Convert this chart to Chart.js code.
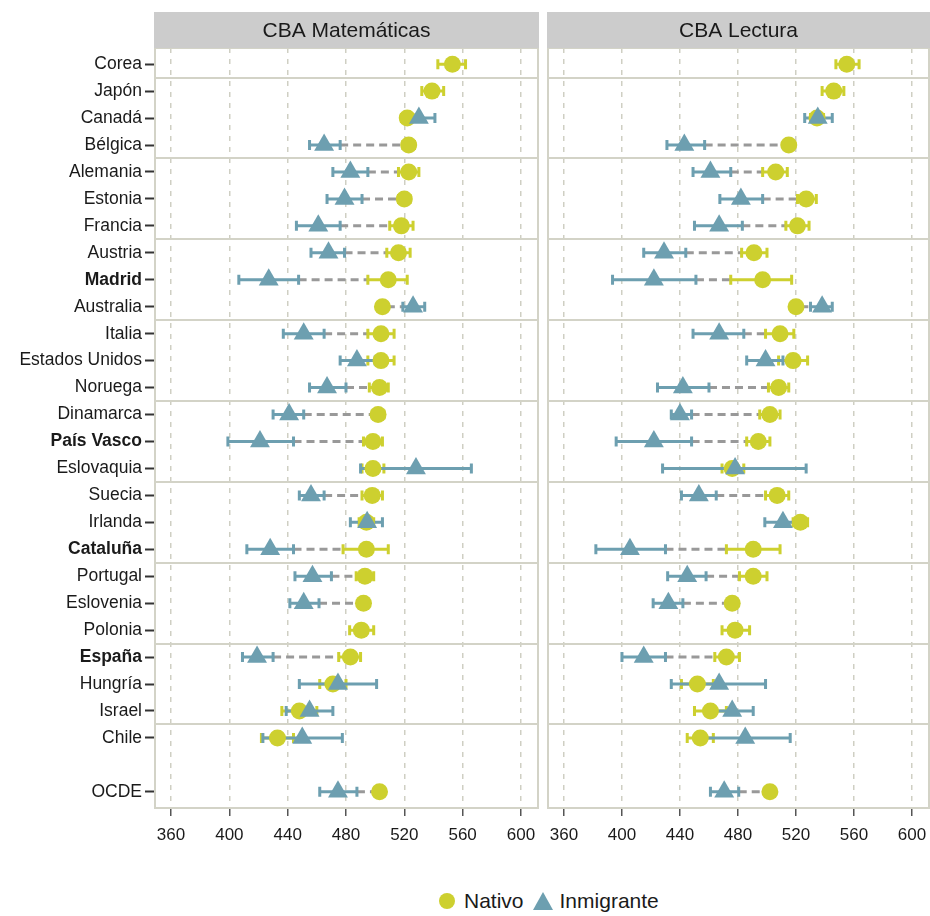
<!DOCTYPE html>
<html lang="es">
<head>
<meta charset="UTF-8">
<title>CBA Matemáticas y Lectura: nativos e inmigrantes</title>
<script src="https://cdn.jsdelivr.net/npm/chart.js"></script>
<style>
  body { margin: 0; background: #fff; }
  #marco { position: relative; width: 930px; height: 916px; overflow: hidden; }
  #cMat { position: absolute; left: 0; top: 0; }
  #cLec { position: absolute; left: 540px; top: 0; }
  #leyenda { position: absolute; left: 439px; top: 889px; display: flex; align-items: center;
             font: 21px "Liberation Sans", Arial, sans-serif; color: #1a1a1a; line-height: 24px; }
  .circ { width: 16px; height: 16px; border-radius: 50%; background: #cdd02f; margin-right: 9px; }
  .tri { width: 0; height: 0; border-left: 10px solid transparent; border-right: 10px solid transparent;
         border-bottom: 18px solid #6d9fb0; margin: 0 7px 0 9px; }
</style>
</head>
<body>
<div id="marco">
  <canvas id="cMat" width="540" height="860"></canvas>
  <canvas id="cLec" width="390" height="860"></canvas>
  <div id="leyenda">
    <span class="circ"></span><span>Nativo</span><span class="tri"></span><span>Inmigrante</span>
  </div>
</div>

<script>
// filas (la fila vacía separa los países de la media OCDE)
const paises = ["Corea", "Japón", "Canadá", "Bélgica", "Alemania", "Estonia", "Francia", "Austria", "Madrid", "Australia",
  "Italia", "Estados Unidos", "Noruega", "Dinamarca", "País Vasco", "Eslovaquia", "Suecia", "Irlanda", "Cataluña", "Portugal",
  "Eslovenia", "Polonia", "España", "Hungría", "Israel", "Chile", "", "OCDE"];
const negrita = ["Madrid", "País Vasco", "Cataluña", "España"];
const separadores = [0.5, 3.5, 6.5, 9.5, 12.5, 15.5, 18.5, 21.5, 24.5];
const ticksX = [360, 400, 440, 480, 520, 560, 600];

// CBA Matemáticas
const matNat    = [553, 539, 522, 523, 523, 520, 518, 516, 509, 505, 504, 504, 503, 502, 498.5, 498.5, 498, 494, 494, 493, 492, 490.5, 483, 471, 448, 433, null, 503];
const matNatInf = [543, 532, 518, 519, 516, 516, 510, 508, 495, 502, 495, 495, 496, 498, 492, 491, 491, 489, 478, 487, 490, 482.5, 475, 462, 436, 422, null, 501];
const matNatSup = [562, 547, 526, 527, 530, 524, 526, 524, 522, 508, 513, 513, 509, 506, 505, 506, 505, 499, 509, 499, 494, 499, 490, 480, 460, 444, null, 505];
const matInm    = [null, null, 530, 465, 483, 479, 461, 468, 427, 526, 451, 487.5, 467, 441, 421, 528, 456, 494.5, 428, 457, 451, null, 419, 474.5, 455, 450, null, 474.5];
const matInmInf = [null, null, 519, 455, 471, 467, 446, 456, 406.5, 519, 437, 476, 455, 430, 399, 490, 448, 483, 412, 445, 441.5, null, 409, 448, 439, 423, null, 462];
const matInmSup = [null, null, 541, 476, 495, 491, 476, 479, 447.5, 534, 465, 500, 480, 451, 444, 566, 465, 505, 444, 470, 461.5, null, 430, 501, 471, 477.5, null, 487.5];

// CBA Lectura
const lecNat    = [555, 546, 534.5, 515, 506, 527, 521, 491, 497, 520, 509, 518, 508, 502, 494, 476, 507, 523, 490.5, 490.5, 476, 478, 472, 452, 461, 454, null, 502];
const lecNatInf = [547.5, 538, 530, 512, 497, 521, 513, 482.5, 475, 517, 499, 508, 501, 495, 486, 469, 499, 518, 472, 481, 473, 469, 464, 441, 450, 445, null, 500];
const lecNatSup = [563.5, 553, 539, 518, 514, 534, 529, 500, 517, 523, 518.5, 528, 515, 509, 502, 484, 515, 528, 509, 500, 479, 488, 481, 463, 472, 463, null, 504];
const lecInm    = [null, null, 535, 443, 461, 482, 467, 429, 422, 538, 467, 499, 442, 440, 422, 478, 453, 511, 405.5, 445, 432, null, 415, 467, 476, 485, null, 470.5];
const lecInmInf = [null, null, 526, 431, 449, 467.5, 450, 415, 393.5, 530, 449, 486, 424.5, 434, 396, 428, 441, 498.5, 382, 431.5, 421.5, null, 400, 434, 461, 454, null, 461];
const lecInmSup = [null, null, 545, 457, 475, 497, 483, 444, 451, 545, 484, 511, 460, 448, 448, 527, 465, 523, 430, 458, 442, null, 430, 499, 490.5, 516, null, 480.5];

const colorNat = "#cdd02f";
const colorInm = "#6d9fb0";
const fuente = "'Liberation Sans', Arial, sans-serif";
Chart.defaults.font.family = fuente;
Chart.defaults.color = "#1a1a1a";

function puntos(valores) {
  return valores.map((v, i) => v == null ? null : { x: v, y: i }).filter(p => p);
}

function crearPanel(id, titulo, nat, natInf, natSup, inm, inmInf, inmSup, conEtiquetas) {
  const capa = {
    id: "capa_" + id,
    beforeDatasetsDraw(chart) {
      const { ctx, chartArea: a, scales: { x, y } } = chart;
      ctx.save();
      ctx.beginPath();
      ctx.rect(a.left, a.top, a.width, a.height);
      ctx.clip();

      // líneas de separación entre grupos
      ctx.strokeStyle = "#d3d3c7";
      ctx.lineWidth = 2;
      separadores.forEach(v => {
        const py = Math.round(y.getPixelForValue(v));
        ctx.beginPath();
        ctx.moveTo(a.left, py);
        ctx.lineTo(a.right, py);
        ctx.stroke();
      });

      // diferencia significativa: línea discontinua entre intervalos
      ctx.strokeStyle = "#999999";
      ctx.lineWidth = 3;
      ctx.setLineDash([8, 5]);
      paises.forEach((p, i) => {
        if (nat[i] == null || inm[i] == null) return;
        let desde, hasta;
        if (inm[i] < nat[i]) { desde = inmSup[i]; hasta = natInf[i]; }
        else { desde = natSup[i]; hasta = inmInf[i]; }
        if (hasta <= desde) return;
        const py = y.getPixelForValue(i);
        ctx.beginPath();
        ctx.moveTo(x.getPixelForValue(desde), py);
        ctx.lineTo(x.getPixelForValue(hasta), py);
        ctx.stroke();
      });
      ctx.setLineDash([]);

      // intervalos de confianza
      const barras = (inf, sup, color) => {
        ctx.strokeStyle = color;
        ctx.lineWidth = 3;
        inf.forEach((v, i) => {
          if (v == null) return;
          const py = y.getPixelForValue(i);
          const x1 = x.getPixelForValue(v);
          const x2 = x.getPixelForValue(sup[i]);
          ctx.beginPath();
          ctx.moveTo(x1, py); ctx.lineTo(x2, py);
          ctx.moveTo(x1, py - 5); ctx.lineTo(x1, py + 5);
          ctx.moveTo(x2, py - 5); ctx.lineTo(x2, py + 5);
          ctx.stroke();
        });
      };
      barras(natInf, natSup, colorNat);
      barras(inmInf, inmSup, colorInm);
      ctx.restore();

      // borde del panel
      ctx.save();
      ctx.strokeStyle = "#d3d3c7";
      ctx.lineWidth = 2;
      ctx.strokeRect(a.left, a.top, a.width, a.height);
      ctx.restore();
    },
    afterDraw(chart) {
      const { ctx, chartArea: a } = chart;
      ctx.save();
      ctx.fillStyle = "#cccccc";
      ctx.fillRect(a.left - 1, 12, a.width + 2, a.top - 12);
      ctx.fillStyle = "#1a1a1a";
      ctx.font = "21px " + fuente;
      ctx.textAlign = "center";
      ctx.textBaseline = "middle";
      ctx.fillText(titulo, (a.left + a.right) / 2, 31);
      ctx.restore();
    }
  };

  return new Chart(document.getElementById(id), {
    type: "scatter",
    data: {
      datasets: [
        {
          label: "Nativo",
          data: puntos(nat),
          pointStyle: "circle",
          radius: 8.5,
          backgroundColor: colorNat,
          borderWidth: 0,
          order: 2
        },
        {
          label: "Inmigrante",
          data: puntos(inm),
          pointStyle: "triangle",
          radius: 11.5,
          backgroundColor: colorInm,
          borderWidth: 0,
          order: 1
        }
      ]
    },
    options: {
      responsive: false,
      animation: false,
      layout: {
        autoPadding: false,
        padding: conEtiquetas ? { top: 48, right: 2, left: 0, bottom: 0 } : { top: 48, right: 1, left: 8, bottom: 0 }
      },
      plugins: { legend: { display: false }, tooltip: { enabled: false } },
      scales: {
        x: {
          type: "linear",
          min: 349,
          max: 611.7,
          afterBuildTicks: s => { s.ticks = ticksX.map(v => ({ value: v })); },
          afterFit: s => { s.height = 52; s.paddingLeft = 0; s.paddingRight = 0; },
          grid: { color: "#cfcfc3", lineWidth: 1.5, tickColor: "#555", tickLength: 8, tickWidth: 1.5 },
          border: { display: false, dash: [5, 6] },
          ticks: { font: { size: 17 }, color: "#1a1a1a", padding: 9, maxRotation: 0 }
        },
        y: {
          type: "linear",
          display: conEtiquetas,
          reverse: true,
          min: -0.6,
          max: 27.6,
          afterBuildTicks: s => {
            s.ticks = paises.map((p, i) => ({ value: i })).filter(t => paises[t.value] !== "");
          },
          afterFit: s => { if (conEtiquetas) s.width = 155; s.paddingTop = 0; s.paddingBottom = 0; },
          grid: { drawOnChartArea: false, tickColor: "#333", tickLength: 10, tickWidth: 2 },
          border: { display: false },
          ticks: {
            autoSkip: false,
            padding: 3,
            color: "#1a1a1a",
            callback: v => paises[v],
            font: c => ({ size: 17.5, weight: c.tick && negrita.includes(paises[c.tick.value]) ? "bold" : "normal" })
          }
        }
      }
    },
    plugins: [capa]
  });
}

crearPanel("cMat", "CBA Matemáticas", matNat, matNatInf, matNatSup, matInm, matInmInf, matInmSup, true);
crearPanel("cLec", "CBA Lectura", lecNat, lecNatInf, lecNatSup, lecInm, lecInmInf, lecInmSup, false);
</script>
</body>
</html>
